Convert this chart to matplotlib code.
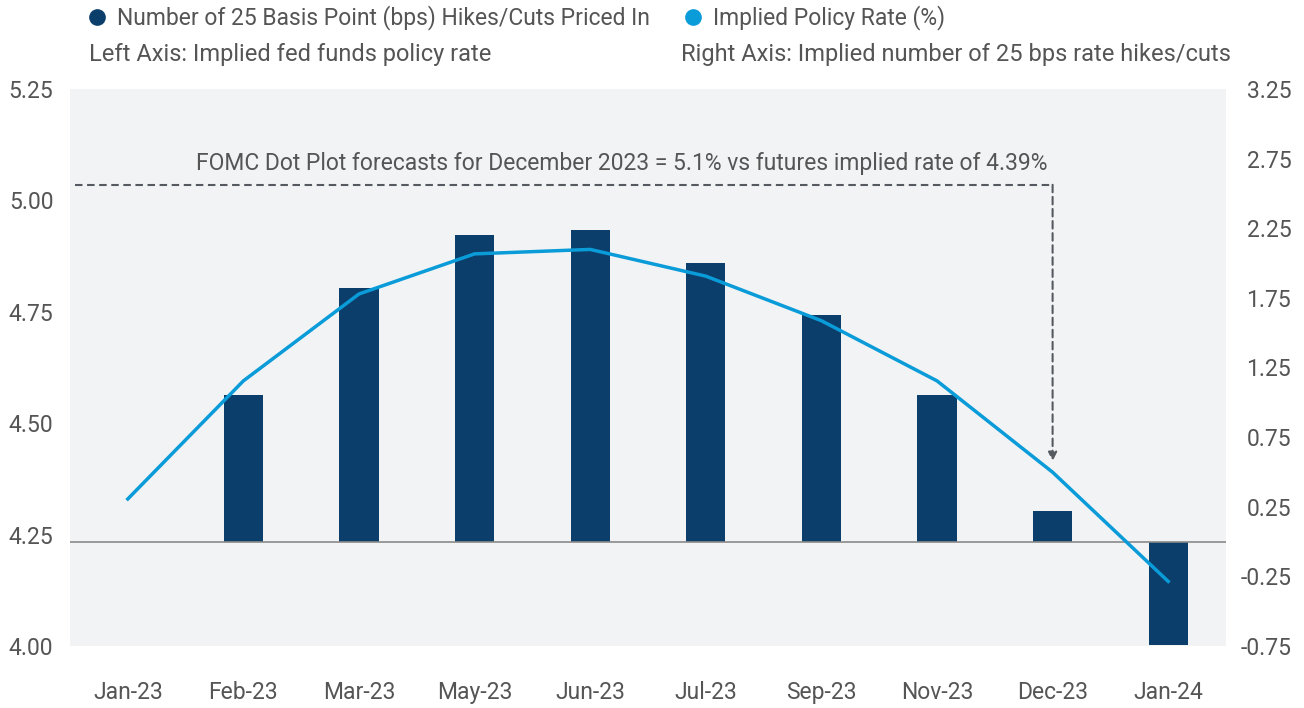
import matplotlib
matplotlib.use("Agg")
import matplotlib.pyplot as plt
from matplotlib.lines import Line2D
import numpy as np

categories = ["Jan-23", "Feb-23", "Mar-23", "May-23", "Jun-23", "Jul-23",
              "Sep-23", "Nov-23", "Dec-23", "Jan-24"]
hikes_priced = [0.0, 1.05, 1.82, 2.20, 2.24, 2.00, 1.63, 1.05, 0.22, -0.74]
implied_rate = [4.33, 4.595, 4.79, 4.88, 4.89, 4.83, 4.73, 4.595, 4.39, 4.145]
left_ticks = [4.00, 4.25, 4.50, 4.75, 5.00, 5.25]
right_ticks = [-0.75, -0.25, 0.25, 0.75, 1.25, 1.75, 2.25, 2.75, 3.25]

BAR = "#0c3e6b"
LINE = "#0a9bd9"
TXT = "#555555"
BG = "#f2f3f5"
DASH = "#555a60"
FS = 16.5

plt.rcParams["font.family"] = ["Roboto", "DejaVu Sans"]

fig = plt.figure(figsize=(13.04, 7.08), dpi=100)
ax = fig.add_axes([70/1304, 1-646/708, (1226-70)/1304, (646-89)/708])
ax2 = ax.twinx()
x = np.arange(len(categories))

# bars on right scale (drawn on the lower axes so the line sits above)
ax.set_facecolor(BG)
ax.bar(x, hikes_priced, width=0.34, color=BAR, zorder=2)
ax.axhline(0, color="#8a8a8a", lw=1.2, zorder=3)
ax.set_ylim(-0.75, 3.25)
ax.set_xlim(-0.5, len(categories)-0.5)
ax.set_xticks(x)
ax.set_xticklabels(categories)
ax.tick_params(axis="x", length=0, pad=25, labelsize=FS, labelcolor=TXT)
for s in ax.spines.values():
    s.set_visible(False)

# line on left scale
ax2.plot(x, implied_rate, color=LINE, lw=2.5, zorder=4)
ax2.set_ylim(4.00, 5.25)
for s in ax2.spines.values():
    s.set_visible(False)

# swap tick sides after twinx
ax.yaxis.tick_right()
ax.set_yticks(right_ticks)
ax.set_yticklabels([f"{v:.2f}" for v in right_ticks])
for lab in ax.get_yticklabels():
    lab.set_horizontalalignment("right")
ax.tick_params(axis="y", which="both", left=False, right=False, labelleft=False,
               labelright=True, length=0, pad=47, labelsize=FS, labelcolor=TXT)

ax2.yaxis.tick_left()
ax2.set_yticks(left_ticks)
ax2.set_yticklabels([f"{v:.2f}" for v in left_ticks])
ax2.tick_params(axis="y", which="both", left=False, right=False, labelleft=True,
                labelright=False, length=0, pad=12, labelsize=FS, labelcolor=TXT)

# annotation: dashed elbow with arrow
ax2.plot([-0.455, 8], [5.035, 5.035], color=DASH, lw=1.5, ls=(0, (3.6, 2.2)), zorder=5)
ax2.annotate("", xy=(8, 4.415), xytext=(8, 5.035),
             arrowprops=dict(arrowstyle="-|>", color=DASH, lw=1.5,
                             linestyle=(0, (3.6, 2.2)), mutation_scale=13,
                             shrinkA=0, shrinkB=0), zorder=5)
ax2.text(7.96, 5.082, "FOMC Dot Plot forecasts for December 2023 = 5.1% vs futures implied rate of 4.39%",
         ha="right", va="center", fontsize=FS, color=TXT)

# legend
handles = [Line2D([], [], ls="none", marker="o", ms=11, color=BAR),
           Line2D([], [], ls="none", marker="o", ms=11, color=LINE)]
fig.legend(handles, ["Number of 25 Basis Point (bps) Hikes/Cuts Priced In",
                     "Implied Policy Rate (%)"],
           loc="center left", bbox_to_anchor=(85.5/1304, 1-18/708), ncol=2,
           frameon=False, fontsize=FS, labelcolor=TXT, handletextpad=0.38,
           columnspacing=1.37, borderpad=0, borderaxespad=0, handlelength=1.0)
fig.text(89/1304, 1-54/708, "Left Axis: Implied fed funds policy rate",
         ha="left", va="center", fontsize=17, color=TXT)
fig.text(681/1304, 1-54/708, "Right Axis: Implied number of 25 bps rate hikes/cuts",
         ha="left", va="center", fontsize=17, color=TXT)

fig.savefig("out.png", dpi=100)
